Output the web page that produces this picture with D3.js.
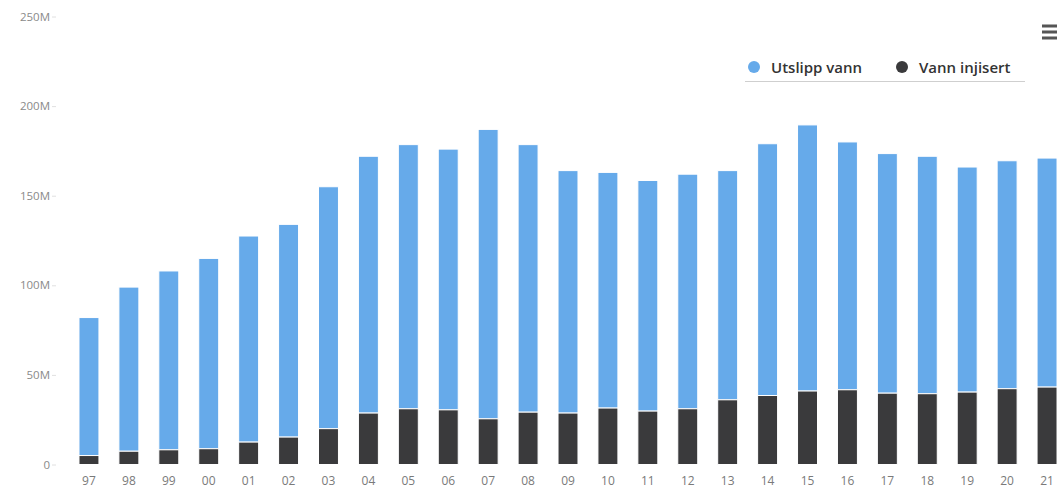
<!DOCTYPE html>
<html><head><meta charset="utf-8">
<script src="https://cdn.jsdelivr.net/npm/d3@7"></script>
<style>
html,body{margin:0;padding:0;background:#fff;}
svg{display:block;}
</style></head>
<body>
<svg id="c" width="1057" height="491"></svg>
<script>
const years = ["97","98","99","00","01","02","03","04","05","06","07","08","09","10","11","12","13","14","15","16","17","18","19","20","21"];
const totalValues = [82, 99, 108, 115, 127.5, 134, 155, 172, 178.5, 176, 187, 178.5, 164, 163, 158.5, 162, 164, 179, 189.5, 180, 173.5, 172, 166, 169.5, 171];
const injectedValues = [5, 7.4, 8.2, 8.8, 12.5, 15.3, 20, 28.7, 31.1, 30.5, 25.5, 29.2, 28.7, 31.5, 29.8, 31.1, 36.1, 38.5, 41, 41.7, 39.8, 39.5, 40.4, 42.3, 43.2];
const yTicks = [0, 50, 100, 150, 200, 250];
const yTickLabels = ["0", "50M", "100M", "150M", "200M", "250M"];
const seriesNames = ["Utslipp vann", "Vann injisert"];
const seriesColors = ["#66aaea", "#3a3a3c"];

const svg = d3.select("#c");
const x = d3.scaleBand().domain(years).range([69, 1067]).paddingInner(0.5).paddingOuter(0.25);
const y = d3.scaleLinear().domain([0, 250]).range([464.5, 16.5]);

// y axis
const yAxis = d3.axisLeft(y).tickValues(yTicks).tickFormat((d,i)=>yTickLabels[i]).tickSize(0).tickPadding(0);
const gy = svg.append("g").attr("transform","translate(50,0)").call(yAxis);
gy.select(".domain").remove();
gy.selectAll("text").attr("font-family","Open Sans, sans-serif").attr("font-size",11.5).attr("fill","#8a8a8a");
gy.selectAll(".tick").append("line").attr("x1",2).attr("x2",6).attr("stroke","#e0e0e0");

// x axis
const xAxis = d3.axisBottom(x).tickSize(0).tickPadding(0);
const gx = svg.append("g").attr("transform","translate(0,476)").call(xAxis);
gx.select(".domain").remove();
gx.selectAll("text").attr("font-family","Open Sans, sans-serif").attr("font-size",12).attr("fill","#7a7a7a");

// bars
const data = years.map((yr,i)=>({yr, total: totalValues[i], inj: injectedValues[i]}));
const g = svg.append("g");
g.selectAll("rect.out").data(data).join("rect").attr("class","out")
  .attr("x", d=>x(d.yr)).attr("width", x.bandwidth())
  .attr("y", d=>y(d.total)).attr("height", d=>y(d.inj)-y(d.total))
  .attr("fill", seriesColors[0]).attr("stroke","#fff").attr("stroke-width",1);
g.selectAll("rect.inj").data(data).join("rect").attr("class","inj")
  .attr("x", d=>x(d.yr)).attr("width", x.bandwidth())
  .attr("y", d=>y(d.inj)).attr("height", d=>y(0)-y(d.inj))
  .attr("fill", seriesColors[1]).attr("stroke","#fff").attr("stroke-width",1);

// legend
const lg = svg.append("g");
lg.append("line").attr("x1",745).attr("x2",1025).attr("y1",81.5).attr("y2",81.5).attr("stroke","#cfcfcf").attr("stroke-width",1);
const legX = [754, 902];
seriesNames.forEach((n,i)=>{
  lg.append("circle").attr("cx",legX[i]).attr("cy",67).attr("r",6).attr("fill",seriesColors[i]);
  lg.append("text").attr("x",legX[i]+17).attr("y",72.5).text(n)
    .attr("font-family","Open Sans, sans-serif").attr("font-size",15).attr("font-weight",600).attr("fill","#333");
});

// menu icon
[26,32,38].forEach(yy=>{
  svg.append("rect").attr("x",1042).attr("y",yy-1.5).attr("width",16).attr("height",3).attr("fill","#555");
});
</script>
</body></html>
